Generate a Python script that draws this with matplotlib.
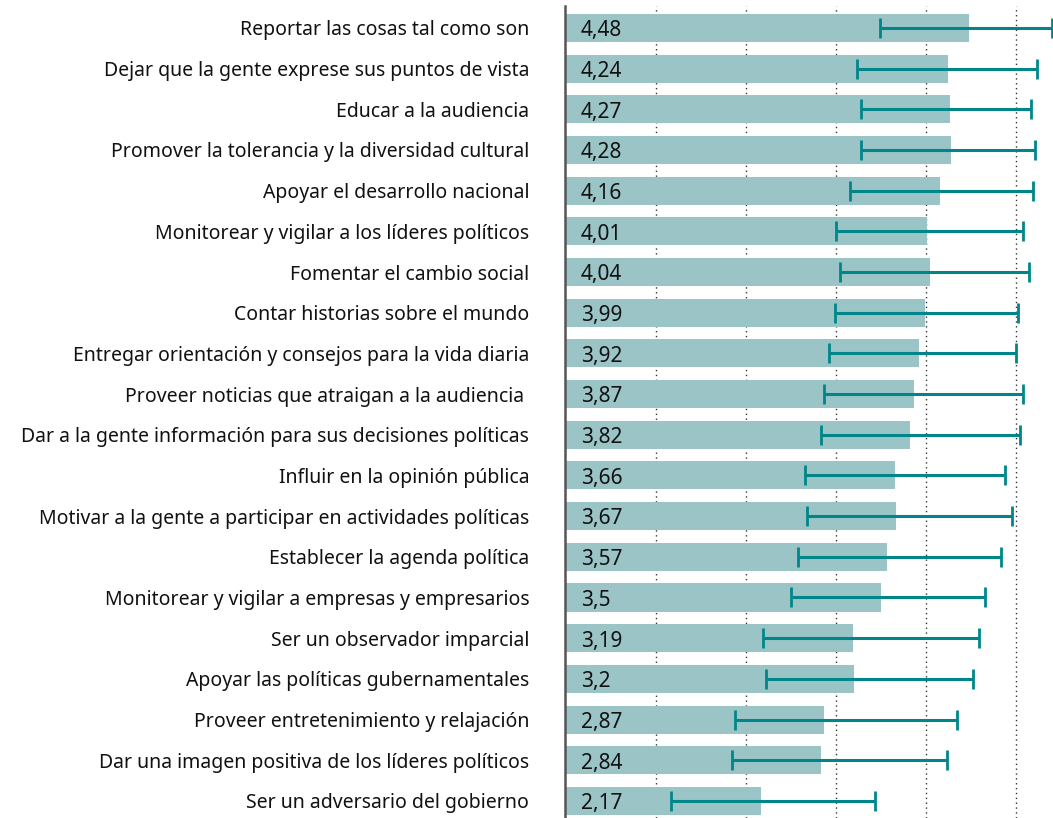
import matplotlib.pyplot as plt
import numpy as np

labels = [
    "Reportar las cosas tal como son",
    "Dejar que la gente exprese sus puntos de vista",
    "Educar a la audiencia",
    "Promover la tolerancia y la diversidad cultural",
    "Apoyar el desarrollo nacional",
    "Monitorear y vigilar a los líderes políticos",
    "Fomentar el cambio social",
    "Contar historias sobre el mundo",
    "Entregar orientación y consejos para la vida diaria",
    "Proveer noticias que atraigan a la audiencia ",
    "Dar a la gente información para sus decisiones políticas",
    "Influir en la opinión pública",
    "Motivar a la gente a participar en actividades políticas",
    "Establecer la agenda política",
    "Monitorear y vigilar a empresas y empresarios",
    "Ser un observador imparcial",
    "Apoyar las políticas gubernamentales",
    "Proveer entretenimiento y relajación",
    "Dar una imagen positiva de los líderes políticos",
    "Ser un adversario del gobierno",
]
means = [4.48, 4.24, 4.27, 4.28, 4.16, 4.01, 4.04, 3.99, 3.92, 3.87,
         3.82, 3.66, 3.67, 3.57, 3.5, 3.19, 3.2, 2.87, 2.84, 2.17]
err_low = [3.49, 3.235, 3.28, 3.28, 3.16, 3.005, 3.05, 2.99, 2.925, 2.87,
           2.836, 2.66, 2.68, 2.58, 2.50, 2.19, 2.22, 1.885, 1.85, 1.17]
err_high = [5.40, 5.23, 5.17, 5.21, 5.19, 5.08, 5.14, 5.02, 5.0, 5.08,
            5.04, 4.88, 4.96, 4.83, 4.65, 4.59, 4.52, 4.34, 4.23, 3.435]
value_text = ["4,48", "4,24", "4,27", "4,28", "4,16", "4,01", "4,04", "3,99", "3,92", "3,87",
              "3,82", "3,66", "3,67", "3,57", "3,5", "3,19", "3,2", "2,87", "2,84", "2,17"]

plt.rcParams["font.family"] = ["Noto Sans", "DejaVu Sans"]

fig = plt.figure(figsize=(10.53, 8.18), dpi=100)
ax = fig.add_axes([0.537, 0.0, 0.463, 0.9927])

y = np.arange(len(labels))
m = np.array(means)
lo = m - np.array(err_low)
hi = np.array(err_high) - m

for gx in [1, 2, 3, 4, 5]:
    ax.axvline(gx, color="#333333", linestyle=(0, (1, 2.5)), linewidth=1.0, zorder=1)

ax.barh(y, m, height=0.69, color="#9BC4C7", zorder=2)
ax.errorbar(m, y, xerr=[lo, hi], fmt="none", ecolor="#00868A", elinewidth=2.2,
            capsize=7, capthick=2, zorder=3, clip_on=False)

for yi, txt in zip(y, value_text):
    ax.text(0.17, yi + 0.07, txt, ha="left", va="center", fontsize=15, color="#111111", zorder=4)

ax.set_xlim(0, 5.41)
ax.set_ylim(19.42, -0.54)
ax.set_yticks(y)
ax.set_yticklabels(labels, fontsize=14, color="#111111")
ax.tick_params(axis="y", length=0, pad=26)
ax.set_xticks([])
for s in ["top", "right", "bottom"]:
    ax.spines[s].set_visible(False)
ax.spines["left"].set_color("#555555")
ax.spines["left"].set_linewidth(1.8)

fig.savefig("out.png", dpi=100)
